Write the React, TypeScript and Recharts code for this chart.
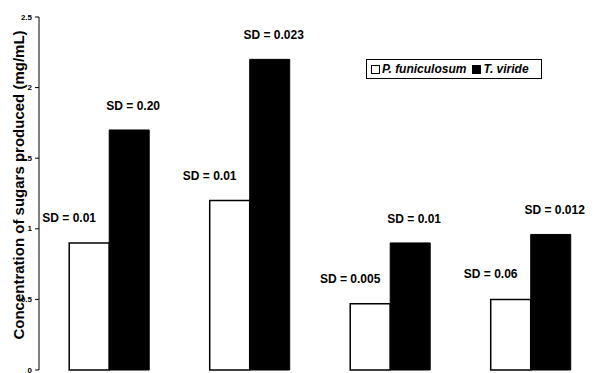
import React from 'react';
import { BarChart, Bar, XAxis, YAxis, LabelList, Legend } from 'recharts';

const categories = ['Substrate 1', 'Substrate 2', 'Substrate 3', 'Substrate 4'];
const pFuniculosum = [0.9, 1.2, 0.47, 0.5];
const tViride = [1.7, 2.2, 0.9, 0.96];
const sdP = ['SD = 0.01', 'SD = 0.01', 'SD = 0.005', 'SD = 0.06'];
const sdT = ['SD = 0.20', 'SD = 0.023', 'SD = 0.01', 'SD = 0.012'];
const yTicks = [0, 0.5, 1, 1.5, 2, 2.5];
const edgeTicks = [0, 1, 2, 3, 4];

const data = categories.map((name, i) => ({
    name,
    p: pFuniculosum[i],
    t: tViride[i],
    sdP: sdP[i],
    sdT: sdT[i],
}));

const font = '"Liberation Sans", Arial, sans-serif';

const sdLabel = (dx: number, dy: number) => (props: any) => {
    const { x, y, width, value } = props;
    return (
        <text
            x={Number(x) + Number(width) / 2 + dx}
            y={Number(y) - dy}
            textAnchor="middle"
            fontFamily={font}
            fontSize={12}
            fontWeight="bold"
            fill="#000"
        >
            {value}
        </text>
    );
};

const YTick = (props: any) => {
    const { x, y, payload } = props;
    return (
        <text
            x={x}
            y={y}
            dy={2.5}
            textAnchor="end"
            fontFamily={font}
            fontSize={8}
            fontWeight="bold"
            fill="#000"
        >
            {payload.value}
        </text>
    );
};

const LegendBox = (props: any) => {
    const { payload = [] } = props;
    return (
        <div
            style={{
                border: '1px solid #000',
                background: '#fff',
                fontFamily: font,
                fontSize: 12,
                fontWeight: 'bold',
                fontStyle: 'italic',
                display: 'flex',
                alignItems: 'center',
                height: 18,
                padding: '0 4px',
                whiteSpace: 'nowrap',
                boxSizing: 'content-box',
            }}
        >
            {payload.map((entry: any, i: number) => (
                <span
                    key={entry.value}
                    style={{ display: 'flex', alignItems: 'center', marginRight: i === payload.length - 1 ? 8 : 6 }}
                >
                    <span
                        style={{
                            display: 'inline-block',
                            width: 7,
                            height: 7,
                            border: '1.5px solid #000',
                            background: entry.color,
                            marginRight: 2,
                        }}
                    />
                    {entry.value}
                </span>
            ))}
        </div>
    );
};

const YTitle = () => (
    <text
        x={24}
        y={185}
        transform="rotate(-90, 24, 185)"
        textAnchor="middle"
        fontFamily={font}
        fontSize={15}
        fontWeight="bold"
        fill="#000"
        stroke="#fff"
        strokeWidth={3}
        paintOrder="stroke"
    >
        Concentration of sugars produced (mg/mL)
    </text>
);

export default function App() {
    return (
        <div style={{ position: 'absolute', left: 0, top: 0, width: 601, height: 373, overflow: 'hidden', background: '#fff' }}>
            <BarChart
                width={601}
                height={373}
                data={data}
                margin={{ top: 17, right: 0, bottom: 0, left: 0 }}
                barCategoryGap="21.5%"
                barGap={0}
            >
                <XAxis dataKey="name" xAxisId="cat" hide />
                <XAxis
                    xAxisId="edge"
                    type="number"
                    domain={[0, 4]}
                    ticks={edgeTicks}
                    interval={0}
                    tick={false}
                    tickSize={3}
                    height={3}
                    stroke="#000"
                />
                <YAxis
                    domain={[0, 2.5]}
                    ticks={yTicks}
                    interval={0}
                    width={39}
                    tickSize={4}
                    tickMargin={3}
                    stroke="#000"
                    tick={<YTick />}
                    label={{ content: <YTitle /> }}
                />
                <Legend
                    layout="vertical"
                    align="center"
                    verticalAlign="middle"
                    wrapperStyle={{ position: 'absolute', top: 59, left: 366, width: 'auto' }}
                    content={<LegendBox />}
                />
                <Bar
                    xAxisId="cat"
                    dataKey="p"
                    name="P. funiculosum"
                    fill="#fff"
                    stroke="#000"
                    strokeWidth={1.5}
                    isAnimationActive={false}
                >
                    <LabelList dataKey="sdP" content={sdLabel(-20, 21)} />
                </Bar>
                <Bar
                    xAxisId="cat"
                    dataKey="t"
                    name="T. viride"
                    fill="#000"
                    stroke="#000"
                    strokeWidth={1}
                    isAnimationActive={false}
                >
                    <LabelList dataKey="sdT" content={sdLabel(4, 20)} />
                </Bar>
            </BarChart>
        </div>
    );
}
